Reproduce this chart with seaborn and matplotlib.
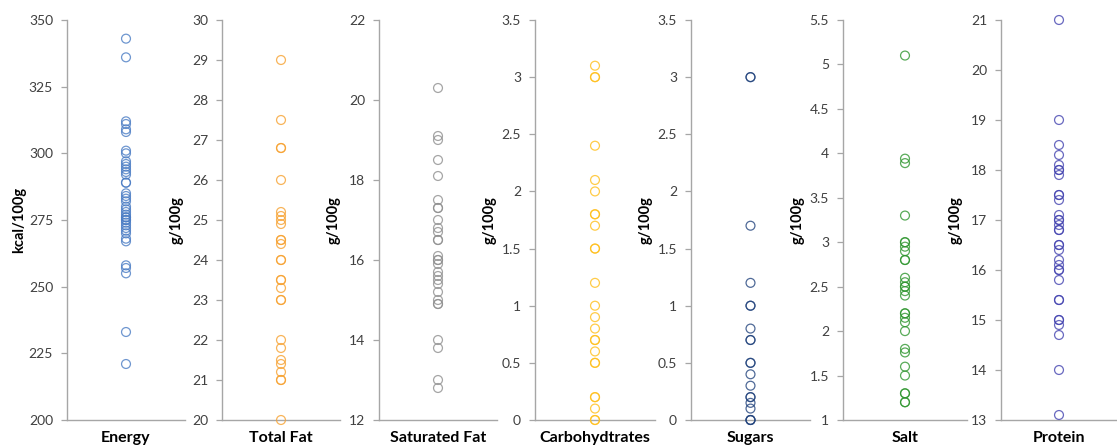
import numpy as np
import pandas as pd
import matplotlib
matplotlib.use("Agg")
import matplotlib.pyplot as plt
from matplotlib.ticker import MultipleLocator, FuncFormatter
import seaborn as sns

# Nutrient values per product (per 100 g)
energy = [343, 336, 312, 311, 309, 308, 301, 300, 297, 296, 295, 294, 293, 292,
          289, 289, 285, 284, 283, 282, 280, 279, 278, 277, 276, 276, 275, 275,
          274, 273, 272, 271, 270, 268, 267, 258, 257, 255, 233, 221]
total_fat = [29, 27.5, 26.8, 26.8, 26, 25.2, 25.1, 25, 24.9, 24.5, 24.5, 24.4,
             24, 24, 23.5, 23.5, 23.3, 23, 23, 22, 21.8, 21.5, 21.4, 21.2, 21, 21, 20]
saturated_fat = [20.3, 19.1, 19.0, 18.5, 18.1, 17.5, 17.3, 17.3, 17.0, 16.8, 16.7,
                 16.5, 16.5, 16.1, 16.0, 16.0, 15.9, 15.7, 15.6, 15.5, 15.4, 15.2,
                 15.0, 14.9, 14.9, 14.0, 13.8, 13.0, 12.8]
carbohydrates = [3.1, 3.0, 3.0, 2.4, 2.1, 2.0, 1.8, 1.8, 1.7, 1.5, 1.5, 1.2, 1.0,
                 0.9, 0.8, 0.7, 0.7, 0.6, 0.5, 0.5, 0.2, 0.2, 0.1, 0.0, 0.0]
sugars = [3.0, 3.0, 1.7, 1.2, 1.0, 1.0, 0.8, 0.7, 0.7, 0.5, 0.5, 0.4, 0.3, 0.2,
          0.2, 0.15, 0.1, 0.0, 0.0, 0.0]
salt = [5.1, 3.94, 3.89, 3.3, 3.0, 3.0, 2.95, 2.9, 2.8, 2.8, 2.6, 2.55, 2.5, 2.5,
        2.45, 2.4, 2.2, 2.2, 2.15, 2.1, 2.0, 1.8, 1.76, 1.6, 1.5, 1.3, 1.3, 1.2, 1.2]
protein = [21.0, 19.0, 18.5, 18.3, 18.1, 18.0, 18.0, 17.9, 17.5, 17.5, 17.4, 17.1,
           17.0, 17.0, 16.9, 16.8, 16.8, 16.5, 16.5, 16.4, 16.2, 16.1, 16.0, 16.0,
           15.8, 15.4, 15.4, 15.0, 15.0, 14.9, 14.7, 14.0, 13.1]

categories = ["Energy", "Total Fat", "Saturated Fat", "Carbohydtrates",
              "Sugars", "Salt", "Protein"]
series = [energy, total_fat, saturated_fat, carbohydrates, sugars, salt, protein]
units = ["kcal/100g", "g/100g", "g/100g", "g/100g", "g/100g", "g/100g", "g/100g"]
y_limits = [(200, 350), (20, 30), (12, 22), (0, 3.5), (0, 3.5), (1, 5.5), (13, 21)]
y_steps = [25, 1, 2, 0.5, 0.5, 0.5, 1]
colors = ["#4a7cc4", "#f7a130", "#8f8f8f", "#ffbf1a", "#24457e", "#2f962f", "#4343b0"]

sns.set_theme(style="white")
plt.rcParams["font.family"] = ["Lato", "DejaVu Sans"]

W, H = 1117, 446
fig = plt.figure(figsize=(W / 100, H / 100), dpi=100)

# panel geometry in pixels: left edge of each y axis and panel width
lefts = [67, 222, 379, 535, 691, 843, 1001]
widths = [118, 118, 118, 120, 119, 124, 116]
top_px, bottom_px = 20, 420
axis_color = "#a6a6a6"
text_color = "#404040"

for i, (name, vals) in enumerate(zip(categories, series)):
    ax = fig.add_axes([lefts[i] / W, (H - bottom_px) / H,
                       widths[i] / W, (bottom_px - top_px) / H])
    df = pd.DataFrame({"nutrient": [name] * len(vals), "value": vals})
    sns.stripplot(data=df, x="nutrient", y="value", ax=ax, jitter=False,
                  color=colors[i], size=6.4, linewidth=0.9)
    for coll in ax.collections:
        coll.set_facecolor("none")
        coll.set_edgecolor(colors[i])
        coll.set_alpha(0.8)
        coll.set_clip_on(False)

    ax.set_xlim(-0.5, 0.5)
    ax.set_ylim(*y_limits[i])
    ax.yaxis.set_major_locator(MultipleLocator(y_steps[i]))
    ax.yaxis.set_major_formatter(FuncFormatter(lambda v, p: f"{v:g}"))

    for side in ("top", "right"):
        ax.spines[side].set_visible(False)
    for side in ("left", "bottom"):
        ax.spines[side].set_color(axis_color)
        ax.spines[side].set_linewidth(1.0)

    ax.tick_params(axis="y", which="major", direction="out", length=4,
                   width=0.9, color=axis_color, labelsize=10,
                   labelcolor=text_color, pad=6, left=True)
    ax.tick_params(axis="x", length=0, pad=8, labelsize=11.5, labelcolor="black")
    for lbl in ax.get_xticklabels():
        lbl.set_fontweight("bold")

    ax.set_xlabel("")
    ax.set_ylabel(units[i], fontsize=10.5, fontweight="bold", color="black")
    offset = 41 if i == 0 else 38
    ax.yaxis.set_label_coords(-offset / widths[i], 0.5)
    ax.set_facecolor("none")

fig.savefig("out.png", dpi=100)
